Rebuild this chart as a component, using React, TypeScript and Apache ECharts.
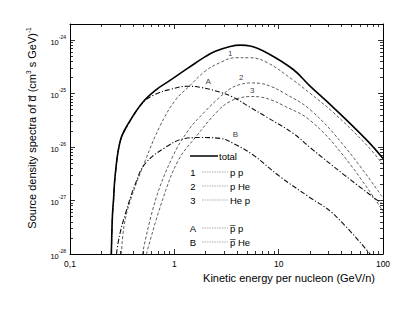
import React, { useEffect, useRef } from 'react';
import * as echarts from 'echarts';

// ---- data (kinetic energy per nucleon in GeV/n, source density in (cm^3 s GeV)^-1) ----
const totalE = [0.249, 0.255, 0.261, 0.272, 0.304, 0.363, 0.494, 0.658, 0.916, 1.36, 1.98, 2.47, 3.43, 4.29, 5.34, 7.76, 13.8, 20, 33.3, 70.3, 100];
const totalV = [1e-28, 5.2e-28, 1.0e-27, 3.2e-27, 1.33e-26, 2.77e-26, 6.76e-26, 1.15e-25, 1.78e-25, 3.02e-25, 4.9e-25, 6.17e-25, 7.59e-25, 8.04e-25, 7.76e-25, 5.75e-25, 2.82e-25, 1.38e-25, 5.53e-26, 1.33e-26, 6.1e-27];

const ppE = [0.311, 0.33, 0.379, 0.527, 0.734, 1.02, 1.39, 1.98, 2.75, 3.84, 5.34, 7.76, 13.8, 20, 33.3, 70.3, 100];
const ppV = [1e-28, 3.4e-28, 1.0e-27, 5.6e-27, 2.54e-26, 7.48e-26, 1.37e-25, 2.63e-25, 3.8e-25, 4.68e-25, 4.68e-25, 3.8e-25, 1.78e-25, 1.01e-25, 4.46e-26, 1.07e-26, 4.7e-27];

const pHeE = [0.494, 0.658, 0.957, 1.36, 1.98, 2.75, 3.5, 4.29, 5.34, 6.65, 8.5, 11, 20, 43.3, 100];
const pHeV = [1e-28, 1.0e-27, 6.4e-27, 2.05e-26, 4.68e-26, 8.71e-26, 1.26e-25, 1.48e-25, 1.58e-25, 1.55e-25, 1.35e-25, 1.05e-25, 5.01e-26, 1.0e-26, 1.12e-27];

const HepE = [0.54, 0.767, 1.09, 1.59, 2.64, 3.4, 4.29, 5.3, 6.65, 8.5, 11, 20, 43.3, 100];
const HepV = [1e-28, 1.0e-27, 5.6e-27, 1.51e-26, 4.86e-26, 7.08e-26, 8.32e-26, 8.81e-26, 8.61e-26, 7.59e-26, 6.03e-26, 3.16e-26, 6.31e-27, 6.31e-28];

const pbarpE = [0.249, 0.255, 0.261, 0.272, 0.304, 0.363, 0.494, 0.658, 0.916, 1.33, 1.77, 2.75, 3.67, 5.3, 7.76, 13.8, 20, 43.3, 100];
const pbarpV = [1e-28, 5.0e-28, 0.95e-27, 3.1e-27, 1.3e-26, 2.7e-26, 6.6e-26, 0.97e-25, 1.2e-25, 1.37e-25, 1.31e-25, 1.06e-25, 8.53e-26, 5.58e-26, 3.59e-26, 1.8e-26, 9.8e-27, 2.93e-27, 8.4e-28];

const pbarHeE = [0.279, 0.298, 0.34, 0.424, 0.527, 0.82, 1.27, 1.77, 2.75, 3.84, 5.7, 10.3, 20, 33.3, 75.2];
const pbarHeV = [1e-28, 2.2e-28, 5.68e-28, 2.07e-27, 4.92e-27, 9.82e-27, 1.45e-26, 1.51e-26, 1.45e-26, 1.12e-26, 7.1e-27, 2.8e-27, 1.13e-27, 5.68e-28, 1e-28];

// curve tags
const tagText = ['1', '2', '3', 'A', 'B'];
const tagE = [3.43, 4.37, 5.57, 2.11, 3.84];
const tagV = [5.7e-25, 2.02e-25, 1.15e-25, 1.7e-25, 1.72e-26];

// axes
const xMajor = [0.1, 1, 10, 100];
const xLabels = ['0,1', '1', '10', '100'];
const yMajorExp = [-28, -27, -26, -25, -24];
const yMin = 1e-28;
const yMax = 2e-24;

const Y_UNIT = 1e-28; // plotted in units of 1e-28 to keep the log scale numerically safe

const FONT = '"Liberation Sans", Arial, sans-serif';

function pairs(E: number[], V: number[]) {
  return E.map((e, i) => [e, V[i] / Y_UNIT]);
}

export default function App() {
  const ref = useRef<HTMLDivElement>(null);
  useEffect(() => {
    if (!ref.current) return;
    const chart = echarts.init(ref.current, null, { renderer: 'svg' });

    const xMinor: number[] = [];
    [0.1, 1, 10].forEach((d) => {
      for (let k = 2; k <= 9; k++) xMinor.push(+(d * k).toPrecision(3));
    });
    const yMajor = yMajorExp.map((e) => Math.pow(10, e + 28));
    const yMinor: number[] = [];
    yMajor.forEach((d) => {
      for (let k = 2; k <= 9; k++) {
        const v = d * k;
        if (v <= yMax / Y_UNIT + 1e-9) yMinor.push(v);
      }
    });

    const baseX = {
      type: 'log' as const,
      logBase: 10,
      min: 0.1,
      max: 100,
      splitLine: { show: false },
      minorTick: { show: false },
      minorSplitLine: { show: false },
    };
    const baseY = {
      type: 'log' as const,
      logBase: 10,
      min: yMin / Y_UNIT,
      max: yMax / Y_UNIT,
      splitLine: { show: false },
      minorTick: { show: false },
      minorSplitLine: { show: false },
    };
    const line = { show: true, onZero: false, lineStyle: { color: '#000', width: 1 } };
    const noLine = { show: false, onZero: false };
    const tick = (vals: number[], len: number) => ({
      show: true,
      inside: true,
      length: len,
      customValues: vals,
      lineStyle: { color: '#000', width: 0.8 },
    });
    const noLabel = { show: false };

    const xLabelFor = (v: number) => {
      const i = xMajor.findIndex((m) => Math.abs(Math.log10(m) - Math.log10(v)) < 1e-6);
      return i >= 0 ? xLabels[i] : '';
    };

    const lineSeries = (name: string, E: number[], V: number[], style: any, z = 2) => ({
      name,
      type: 'line',
      data: pairs(E, V),
      showSymbol: false,
      symbol: 'none',
      smooth: 0.4,
      clip: true,
      lineStyle: style,
      z,
    });

    const dash = [3, 2];
    const dashDot = [5, 2, 1.2, 2];

    chart.setOption({
      animation: false,
      grid: { left: 70, right: 32, top: 24, bottom: 57, containLabel: false },
      xAxis: [
        {
          ...baseX,
          position: 'bottom',
          axisLine: line,
          axisTick: tick(xMajor, 5),
          axisLabel: {
            show: true,
            customValues: xMajor,
            formatter: (v: number) => xLabelFor(v),
            fontSize: 8.5,
            color: '#000',
            margin: 5,
            fontFamily: FONT,
          },
        },
        { ...baseX, position: 'bottom', axisLine: noLine, axisTick: tick(xMinor, 3), axisLabel: noLabel },
        { ...baseX, position: 'top', axisLine: line, axisTick: tick(xMajor, 5), axisLabel: noLabel },
        { ...baseX, position: 'top', axisLine: noLine, axisTick: tick(xMinor, 3), axisLabel: noLabel },
      ],
      yAxis: [
        {
          ...baseY,
          position: 'left',
          axisLine: line,
          axisTick: tick(yMajor, 5),
          axisLabel: {
            show: true,
            customValues: yMajor,
            formatter: (v: number) => {
              const e = Math.round(Math.log10(v)) - 28;
              return `{b|10}{s|${e}}`;
            },
            margin: 4,
            rich: {
              b: { fontSize: 7.5, color: '#000', fontFamily: FONT, lineHeight: 12, verticalAlign: 'bottom' },
              s: { fontSize: 5, color: '#000', fontFamily: FONT, lineHeight: 12, verticalAlign: 'top' },
            },
          },
        },
        { ...baseY, position: 'left', axisLine: noLine, axisTick: tick(yMinor, 3), axisLabel: noLabel },
        { ...baseY, position: 'right', axisLine: line, axisTick: tick(yMajor, 5), axisLabel: noLabel },
        { ...baseY, position: 'right', axisLine: noLine, axisTick: tick(yMinor, 3), axisLabel: noLabel },
      ],
      series: [
        lineSeries('p p', ppE, ppV, { color: '#333', width: 0.8, type: dash }),
        lineSeries('p He', pHeE, pHeV, { color: '#333', width: 0.8, type: dash }),
        lineSeries('He p', HepE, HepV, { color: '#333', width: 0.8, type: dash }),
        lineSeries('pbar p', pbarpE, pbarpV, { color: '#111', width: 1.1, type: dashDot }, 3),
        lineSeries('pbar He', pbarHeE, pbarHeV, { color: '#111', width: 1.1, type: dashDot }, 3),
        lineSeries('total', totalE, totalV, { color: '#000', width: 1.6, type: 'solid' }, 4),
        {
          type: 'scatter',
          symbolSize: 1,
          itemStyle: { color: 'rgba(0,0,0,0)' },
          silent: true,
          z: 6,
          data: tagText.map((t, i) => ({
            value: [tagE[i], tagV[i] / Y_UNIT],
            label: { formatter: t },
          })),
          label: { show: true, position: 'inside', fontSize: 8, color: '#000', fontFamily: FONT },
        },
      ],
      graphic: [
        {
          type: 'text',
          x: 32,
          y: 128,
          rotation: Math.PI / 2,
          style: {
            text: 'Source density spectra of d\u0305 (cm{s|3} s GeV){s|-1}',
            fontSize: 11,
            fontFamily: FONT,
            fill: '#000',
            align: 'center',
            verticalAlign: 'middle',
            rich: {
              s: { fontSize: 6.5, fontFamily: FONT, verticalAlign: 'top', lineHeight: 14 },
            },
          },
        },
        {
          type: 'text',
          x: 289,
          y: 278,
          style: {
            text: 'Kinetic energy per nucleon (GeV/n)',
            fontSize: 11,
            fontFamily: FONT,
            fill: '#000',
            align: 'center',
            verticalAlign: 'middle',
          },
        },
        // legend
        { type: 'line', shape: { x1: 190, y1: 156, x2: 218, y2: 156 }, style: { stroke: '#000', lineWidth: 1.5 } },
        { type: 'text', x: 219, y: 156, style: { text: 'total', fontSize: 9.5, fontFamily: FONT, fill: '#000', verticalAlign: 'middle' } },
        ...[
          { k: '1', t: 'p p', y: 172 },
          { k: '2', t: 'p He', y: 186 },
          { k: '3', t: 'He p', y: 200 },
          { k: 'A', t: 'p\u0305 p', y: 228 },
          { k: 'B', t: 'p\u0305 He', y: 242 },
        ].flatMap((r) => [
          { type: 'text', x: 193, y: r.y, style: { text: r.k, fontSize: 9.5, fontFamily: FONT, fill: '#000', align: 'center', verticalAlign: 'middle' } },
          { type: 'line', shape: { x1: 202, y1: r.y, x2: 228, y2: r.y }, style: { stroke: '#777', lineWidth: 0.6, lineDash: [1.5, 1] } },
          { type: 'text', x: 230, y: r.y, style: { text: r.t, fontSize: 9.5, fontFamily: FONT, fill: '#000', verticalAlign: 'middle' } },
        ]),
      ],
    });
    return () => chart.dispose();
  }, []);
  return <div ref={ref} style={{ position: 'fixed', left: 0, top: 0, width: 415, height: 311, background: '#fff' }} />;
}
